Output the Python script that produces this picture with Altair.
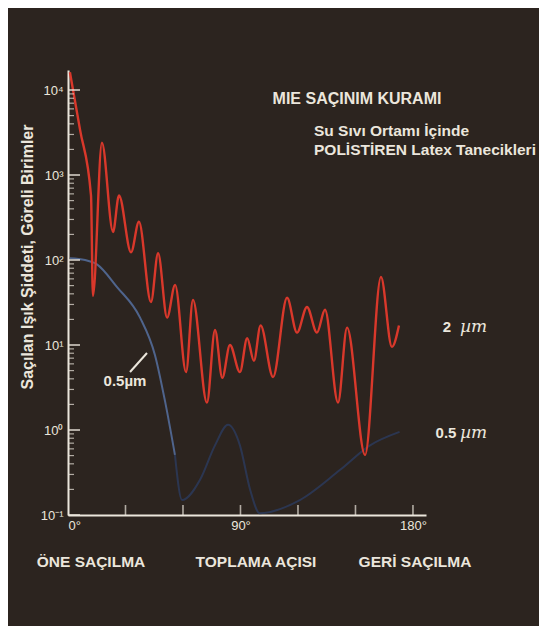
import altair as alt
import pandas as pd

# ---- data ----
red_angle = [1.0, 6.3, 12.0, 13.0, 17.7, 23.5, 26.6, 32.9, 37.0, 43.3, 47.0, 51.7, 55.9,
             61.6, 65.2, 72.5, 76.7, 80.5, 84.5, 89.7, 93.5, 97.0, 100.5, 107.0, 114.3,
             119.5, 124.7, 129.9, 134.1, 140.9, 145.6, 155.0, 163.3, 169.0, 172.7]
red_value = [16200, 3400, 575, 38, 2400, 214, 575, 123, 282, 32, 120, 21, 51,
             4.8, 34, 2.1, 15, 4.1, 10, 4.8, 12, 6.5, 17, 4.2, 36,
             14, 28, 14, 26, 2.1, 16, 0.51, 63, 9.5, 17]

blue_angle = [1.0, 8.9, 15.1, 25.6, 37.6, 45.4, 50.6, 55.8, 59.5, 68.9, 76.7, 83.5,
              89.7, 95.0, 100.0, 121.0, 142.0, 157.6, 173.0]
blue_value = [105, 100, 89, 48, 21, 7.6, 2.2, 0.51, 0.15, 0.26, 0.66, 1.15,
              0.66, 0.2, 0.105, 0.15, 0.34, 0.66, 0.95]

y_major = [0.1, 1, 10, 100, 1000, 10000]
y_minor = [0.2, 0.3, 0.4, 0.5, 0.6, 0.7, 0.8, 0.9,
           2, 3, 4, 5, 6, 7, 8, 9,
           20, 30, 40, 50, 60, 70, 80, 90,
           200, 300, 400, 500, 600, 700, 800, 900,
           2000, 3000, 4000, 5000, 6000, 7000, 8000, 9000]
x_ticks = [30, 60, 90, 120, 150, 180]
x_labels = [0, 90, 180]

# ---- styling ----
W, H = 358, 445
BG = "#2c241f"
FG = "#ebe6dc"
FONT = "Liberation Sans"

red_df = pd.DataFrame({"angle": red_angle, "value": red_value})
blue_df = pd.DataFrame({"angle": blue_angle, "value": blue_value})
major_df = pd.DataFrame({"value": y_major})
minor_df = pd.DataFrame({"value": y_minor})
xt_df = pd.DataFrame({"angle": x_ticks})
dummy = pd.DataFrame({"a": [0]})

xscale = alt.Scale(domain=[0, 186.8], nice=False, zero=False)
yscale = alt.Scale(type="log", domain=[0.1, 17200], nice=False)

x_axis = alt.Axis(values=x_labels, labelExpr="datum.value + '°'", ticks=False, tickSize=0,
                  title=None, grid=False, domainColor=FG, domainWidth=2,
                  labelColor=FG, labelFont=FONT, labelFontSize=13, labelPadding=4)
y_axis = alt.Axis(values=y_major,
                  labelExpr="'10' + ['⁻¹','⁰','¹','²','³','⁴'][round(log(datum.value)/LN10)+1]",
                  ticks=False, tickSize=0, title=None, grid=False,
                  domainColor=FG, domainWidth=2, labelColor=FG, labelFont=FONT,
                  labelFontSize=13, labelPadding=5)

x_enc = alt.X("angle:Q", scale=xscale, axis=x_axis)
y_enc = alt.Y("value:Q", scale=yscale, axis=y_axis)

blue_near = alt.Chart(blue_df).transform_filter("datum.angle <= 56").mark_line(
    color="#4f648c", strokeWidth=2, interpolate="monotone").encode(x=x_enc, y=y_enc)
blue_far = alt.Chart(blue_df).transform_filter("datum.angle >= 55").mark_line(
    color="#2c3b5e", strokeWidth=2, opacity=0.8, interpolate="monotone").encode(x=x_enc, y=y_enc)
red = alt.Chart(red_df).mark_line(color="#d9382b", strokeWidth=2.4,
                                  interpolate="monotone").encode(x=x_enc, y=y_enc)

minor = alt.Chart(minor_df).mark_tick(color=FG, thickness=1.2, size=6).encode(
    y=y_enc, x=alt.value(3))
major = alt.Chart(major_df).mark_tick(color=FG, thickness=2, size=12).encode(
    y=y_enc, x=alt.value(6))
xt = alt.Chart(xt_df).mark_tick(color=FG, thickness=1.6, size=10).encode(
    x=x_enc, y=alt.value(H - 5))


def label(text, x, y, size=14, weight="bold", align="center", font=FONT,
          angle=0, style="normal", color=FG):
    return alt.Chart(dummy).mark_text(
        text=text, align=align, baseline="middle", font=font, fontSize=size,
        fontWeight=weight, fontStyle=style, angle=angle, color=color
    ).encode(x=alt.value(x), y=alt.value(y))


pointer = alt.Chart(dummy).mark_rule(color=FG, strokeWidth=2).encode(
    x=alt.value(62), y=alt.value(302), x2=alt.value(79), y2=alt.value(283))

texts = [
    label("MIE SAÇINIM KURAMI", 289, 29, size=16),
    label("Su Sıvı Ortamı İçinde", 246, 61, size=15.5, align="left"),
    label("POLİSTİREN Latex Tanecikleri", 246, 80, size=15.5, align="left"),
    label("Saçılan Işık Şiddeti, Göreli Birimler", -40, 187, size=16, angle=270),
    label("ÖNE SAÇILMA", 23, 492, size=15.5),
    label("TOPLAMA AÇISI", 188, 492, size=15.5),
    label("GERİ SAÇILMA", 347, 492, size=15.5),
    label("0.5µm", 57, 311, size=15),
    label("2", 379, 257, size=15),
    label("µm", 392, 257, size=17, weight="normal", style="italic",
          align="left", font="DejaVu Serif"),
    label("0.5", 378, 363, size=15),
    label("µm", 392, 363, size=17, weight="normal", style="italic",
          align="left", font="DejaVu Serif"),
]

chart = alt.layer(blue_far, blue_near, red, minor, major, xt, pointer, *texts).properties(
    width=W, height=H,
    autosize=alt.AutoSizeParams(type="none"),
    padding={"left": 60, "top": 62, "right": 113, "bottom": 111},
    background=BG,
).configure_view(stroke=None)

chart.save("out.html", embed_options={"renderer": "svg", "actions": False})
